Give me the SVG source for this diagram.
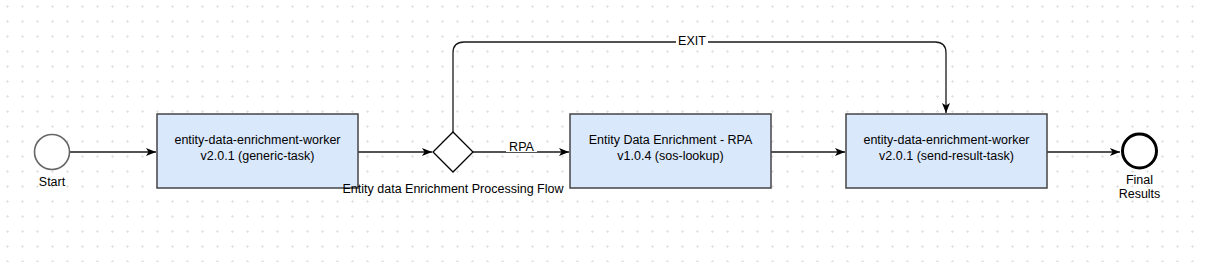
<svg xmlns="http://www.w3.org/2000/svg" width="1205" height="262" viewBox="0 0 1205 262">
<style>
text{font-family:"Liberation Sans",Arial,sans-serif;font-size:12.5px;fill:#000}
.task{fill:#dae8fc;stroke:#444;stroke-width:1.5}
.conn{fill:none;stroke:#1a1a1a;stroke-width:1.3}
.lbl{fill:#fff}
</style>
<defs>
<pattern id="grid" width="15" height="15" patternUnits="userSpaceOnUse">
<rect x="6" y="6" width="3" height="1" fill="#e4e4e4"/>
<rect x="7" y="5" width="1" height="3" fill="#e4e4e4"/>
</pattern>
<marker id="arr" markerWidth="12" markerHeight="10" refX="10" refY="4" orient="auto" markerUnits="userSpaceOnUse">
<path d="M0,0 L10,4 L0,8 L2.5,4 Z" fill="#000"/>
</marker>
</defs>
<rect width="1205" height="262" fill="#fff"/>
<rect width="1205" height="262" fill="url(#grid)"/>
<g id="connectors">
<path class="conn" d="M70,152 H156" marker-end="url(#arr)"/>
<path class="conn" d="M358,152 H432" marker-end="url(#arr)"/>
<path class="conn" d="M473,152 H569" marker-end="url(#arr)"/>
<rect class="lbl" x="506" y="140" width="31" height="12"/>
<text x="521.5" y="151" text-anchor="middle">RPA</text>
<path class="conn" d="M453,132 V53 Q453,42 464,42 H935 Q946,42 946,53 V113" marker-end="url(#arr)"/>
<rect class="lbl" x="676" y="35" width="32" height="12"/>
<text x="692" y="45" text-anchor="middle">EXIT</text>
<path class="conn" d="M771,152 H845" marker-end="url(#arr)"/>
<path class="conn" d="M1047,152 H1120" marker-end="url(#arr)"/>
</g>
<g id="start">
<circle cx="52" cy="152" r="17.5" fill="#fff" stroke="#666" stroke-width="1.6"/>
<text x="52" y="186" text-anchor="middle">Start</text>
</g>
<g id="task1">
<rect class="task" x="157" y="114" width="201" height="74"/>
<text x="257.5" y="143.5" text-anchor="middle">entity-data-enrichment-worker</text>
<text x="257.5" y="159.5" text-anchor="middle">v2.0.1 (generic-task)</text>
</g>
<g id="gateway">
<path d="M453,132 L473,152 L453,172 L433,152 Z" fill="#fff" stroke="#000" stroke-width="1.3"/>
<text x="453" y="192.5" text-anchor="middle">Entity data Enrichment Processing Flow</text>
</g>
<g id="task2">
<rect class="task" x="570" y="114" width="201" height="74"/>
<text x="670.5" y="143.5" text-anchor="middle">Entity Data Enrichment - RPA</text>
<text x="670.5" y="159.5" text-anchor="middle">v1.0.4 (sos-lookup)</text>
</g>
<g id="task3">
<rect class="task" x="846" y="114" width="201" height="74"/>
<text x="946.5" y="143.5" text-anchor="middle">entity-data-enrichment-worker</text>
<text x="946.5" y="159.5" text-anchor="middle">v2.0.1 (send-result-task)</text>
</g>
<g id="end">
<circle cx="1139.5" cy="151" r="17" fill="#fff" stroke="#000" stroke-width="3"/>
<text x="1139.5" y="183.5" text-anchor="middle">Final</text>
<text x="1139.5" y="197.5" text-anchor="middle">Results</text>
</g>
</svg>
